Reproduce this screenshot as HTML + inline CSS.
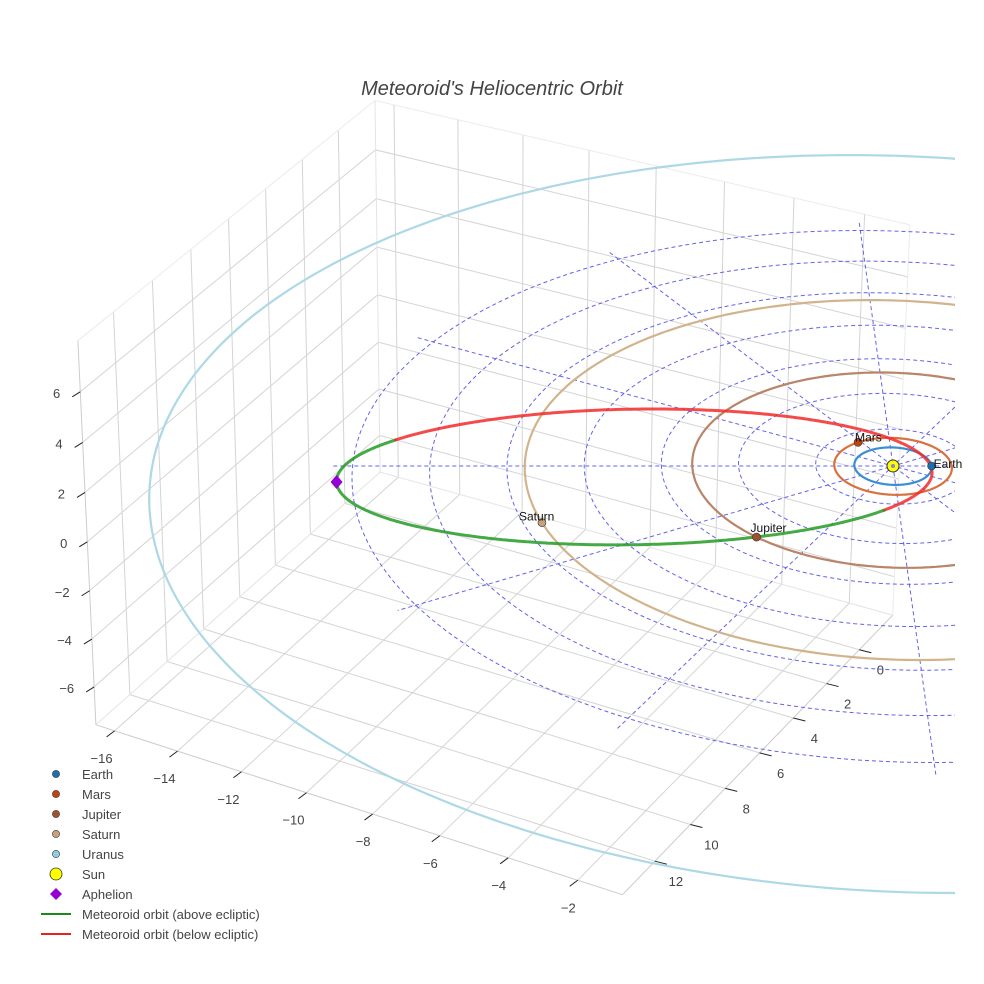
<!DOCTYPE html>
<html><head><meta charset="utf-8"><style>
html,body{margin:0;padding:0;background:#fff}
svg{display:block;font-family:"Liberation Sans",sans-serif}
</style></head><body>
<svg id="chart" width="984" height="984" viewBox="0 0 984 984">
<defs><clipPath id="sceneClip"><rect x="0" y="60" width="955" height="900"/></clipPath></defs>
<g id="scene" clip-path="url(#sceneClip)"></g>
<g id="labels"></g>
<g id="axes"></g>
<g id="legend"></g>
<text x="492" y="95" text-anchor="middle" font-size="20" font-style="italic" fill="#444">Meteoroid's Heliocentric Orbit</text>
</svg>
<script>
// ---- data ----
const planetNames = ["Earth","Mars","Jupiter","Saturn","Uranus"];
const planetRadii = [1.0, 1.52, 5.2, 9.54, 19.19];
const planetAnglesDeg = [0, 237, 135, 162, 330];
const planetOrbitColors = ["#3a8fd4","#d9713f","#b98468","#d2b48c","#add8e6"];
const planetMarkerColors = ["#1a6fb0","#c1440e","#a0522d","#c8a07a","#8fcde0"];
const meteorPerihelion = [1.0];
const meteorAphelion = [14.4];
const meteorApsideDeg = [-4];
const meteorTiltAU = [0.2];
const meteorNodeDeg = [217];
const xTicks = [-16,-14,-12,-10,-8,-6,-4,-2];
const yTicks = [0,2,4,6,8,10,12];
const zTicks = [-6,-4,-2,0,2,4,6];
const ringRadii = [2,4,6,8,10,12,14];
const spokeAnglesDeg = [0,30,60,90,120,150];
const spokeRadius = 14.5;
const xRange = [-16.6,-0.73], yRange = [-2.07,13.8], zRange = [-7.6,8.0];

// ---- box projection (calibrated on the box corners) ----
const X0=xRange[0],X1=xRange[1],Y0=yRange[0],Y1=yRange[1],Z0=zRange[0],Z1=zRange[1];
const calib = [
 [[X0,Y1,Z1],[78,335]],[[X0,Y0,Z1],[373,103]],[[X0,Y0,Z0],[378,470]],
 [[X1,Y0,Z1],[912,228]],[[X1,Y0,Z0],[895,612]],[[X1,Y1,Z0],[618,895]],
 [[X0,Y1,Z0],[100,730]]
];
function solveP(){
  const rows=[],rhs=[];
  calib.forEach(([p,s])=>{const[x,y,z]=p,[u,v]=s;
    rows.push([x,y,z,1,0,0,0,0,-u*x,-u*y,-u*z]);rhs.push(u);
    rows.push([0,0,0,0,x,y,z,1,-v*x,-v*y,-v*z]);rhs.push(v);});
  const n=11,M=[];
  for(let i=0;i<n;i++){M.push(new Array(n+1).fill(0));
    for(let j=0;j<n;j++){let s=0;rows.forEach(r=>s+=r[i]*r[j]);M[i][j]=s+(i===j?1e-6:0);}
    let s=0;rows.forEach((r,k)=>s+=r[i]*rhs[k]);M[i][n]=s;}
  for(let c=0;c<n;c++){let piv=c;for(let r=c+1;r<n;r++)if(Math.abs(M[r][c])>Math.abs(M[piv][c]))piv=r;
    [M[c],M[piv]]=[M[piv],M[c]];
    for(let r=0;r<n;r++){if(r===c)continue;const f=M[r][c]/M[c][c];for(let k=c;k<=n;k++)M[r][k]-=f*M[c][k];}}
  return M.map((r,i)=>r[n]/r[i]);
}
const P=solveP();
function projBox(x,y,z){const w=P[8]*x+P[9]*y+P[10]*z+1;
  return [(P[0]*x+P[1]*y+P[2]*z+P[3])/w,(P[4]*x+P[5]*y+P[6]*z+P[7])/w];}
// ---- heliocentric projection (calibrated on the orbits) ----
const SUN=[893,466],KX=38.6,KXY=2.6,KY=18.75,KZ=25,DEPTH=122;
function proj(x,y,z){const s=DEPTH/(DEPTH-y);return [SUN[0]+(KX*x+KXY*y)*s,SUN[1]+KY*y*s-KZ*z*s];}

const NS="http://www.w3.org/2000/svg";
function mk(tag,attrs,parent){const e=document.createElementNS(NS,tag);for(const k in attrs)e.setAttribute(k,attrs[k]);parent.appendChild(e);return e;}
function pathOf(pts){return pts.map((p,i)=>(i?"L":"M")+p[0].toFixed(1)+","+p[1].toFixed(1)).join("");}
function line3(a,b,n,f){const pts=[];for(let i=0;i<=n;i++){const t=i/n;pts.push(f(a[0]+(b[0]-a[0])*t,a[1]+(b[1]-a[1])*t,a[2]+(b[2]-a[2])*t));}return pts;}
const scene=document.getElementById("scene"),axes=document.getElementById("axes"),legend=document.getElementById("legend"),labels=document.getElementById("labels");

// ---- grid ----
const gridG=mk("g",{},scene);


function gl(a,b,col){const e=mk("path",{d:pathOf(line3(a,b,2,projBox)),stroke:col||"#d4d4d4","stroke-width":1,fill:"none"},gridG);
 
 }
yTicks.forEach(y=>{gl([X0,y,Z0],[X0,y,Z1]);gl([X0,y,Z0],[X1,y,Z0]);});
zTicks.forEach(z=>{gl([X0,Y0,z],[X0,Y1,z]);gl([X0,Y0,z],[X1,Y0,z]);});
xTicks.forEach(x=>{gl([x,Y0,Z0],[x,Y0,Z1]);gl([x,Y0,Z0],[x,Y1,Z0]);});
gl([X0,Y1,Z1],[X0,Y0,Z1],"#ebebeb");gl([X0,Y0,Z1],[X1,Y0,Z1],"#ebebeb");gl([X1,Y0,Z1],[X1,Y0,Z0],"#ebebeb");
gl([X0,Y0,Z1],[X0,Y0,Z0],"#e4e4e4");gl([X0,Y0,Z0],[X1,Y0,Z0],"#e4e4e4");gl([X0,Y0,Z0],[X0,Y1,Z0],"#e4e4e4");
gl([X0,Y1,Z1],[X0,Y1,Z0],"#cccccc");gl([X0,Y1,Z0],[X1,Y1,Z0],"#cccccc");gl([X1,Y1,Z0],[X1,Y0,Z0],"#cccccc");

// ---- ecliptic reference rings and spokes ----
function circlePts(r,n){const pts=[];for(let i=0;i<=n;i++){const a=i/n*2*Math.PI;pts.push(proj(r*Math.cos(a),r*Math.sin(a),0));}return pts;}
ringRadii.forEach(r=>{const e=mk("path",{d:pathOf(circlePts(r,240)),stroke:"#4848e8","stroke-opacity":0.85,"stroke-width":1,"stroke-dasharray":"4,3",fill:"none"},scene);
 
 });
spokeAnglesDeg.forEach(d=>{const a=d*Math.PI/180,c=Math.cos(a),s=Math.sin(a);
 const e=mk("path",{d:pathOf(line3([-spokeRadius*c,-spokeRadius*s,0],[spokeRadius*c,spokeRadius*s,0],20,proj)),stroke:"#4848e8","stroke-opacity":0.85,"stroke-width":1,"stroke-dasharray":"4,3",fill:"none"},scene);
 
 });

// ---- planet orbits ----
planetRadii.forEach((r,i)=>{const e=mk("path",{d:pathOf(circlePts(r,360)),stroke:planetOrbitColors[i],"stroke-width":2.2,fill:"none"},scene);
 
 });

// ---- meteoroid orbit ----
const q=meteorPerihelion[0],Q=meteorAphelion[0],a=(q+Q)/2,c=(Q-q)/2,b=Math.sqrt(a*a-c*c);
const psi=meteorApsideDeg[0]*Math.PI/180,h=meteorTiltAU[0],nd=meteorNodeDeg[0]*Math.PI/180;
function meteorPt(t){const u=a*Math.cos(t)-c,v=b*Math.sin(t);
 const x=u*Math.cos(psi)-v*Math.sin(psi),y=u*Math.sin(psi)+v*Math.cos(psi),z=-h*Math.sin(t-nd);return [x,y,z];}
let seg=[],segAbove=null;const N=720;
function flushSeg(){if(seg.length>1){const e=mk("path",{d:pathOf(seg.map(p=>proj(p[0],p[1],p[2]))),stroke:segAbove?"#249a24":"#f22a2a","stroke-opacity":0.85,"stroke-width":3,fill:"none","stroke-linecap":"round"},scene);
 
 }}
for(let i=0;i<=N;i++){const p=meteorPt(i/N*2*Math.PI),ab=p[2]>=0;
 if(segAbove===null)segAbove=ab;
 if(ab!==segAbove){seg.push(p);flushSeg();seg=[p];segAbove=ab;}else seg.push(p);}
flushSeg();

// ---- markers ----
planetRadii.forEach((r,i)=>{const an=planetAnglesDeg[i]*Math.PI/180;const s=proj(r*Math.cos(an),r*Math.sin(an),0);
 const m=mk("circle",{cx:s[0],cy:s[1],r:4,fill:planetMarkerColors[i],stroke:"#333","stroke-width":0.6},scene);
 
 
 if(i===4)return;
 const t=mk("text",{x:s[0]+(i===0?2:i===1?-3:i===2?-6:-23),y:s[1]+(i===0?2:i===1?-1:i===2?-5:-2),"font-size":12,fill:"#111"},labels);
 t.textContent=planetNames[i];
 
 });
const sunS=proj(0,0,0);
const sun=mk("circle",{cx:sunS[0],cy:sunS[1],r:6,fill:"#ffff00",stroke:"#333","stroke-width":1},scene);


const sunCore=mk("circle",{cx:sunS[0],cy:sunS[1],r:2,fill:"#8888cc"},scene);


const aph=meteorPt(Math.PI),aS=proj(aph[0],aph[1],aph[2]);
const dm=mk("path",{d:`M${aS[0]},${aS[1]-7}L${aS[0]+6},${aS[1]}L${aS[0]},${aS[1]+7}L${aS[0]-6},${aS[1]}Z`,fill:"#9400d3"},scene);



// ---- axes ticks ----
function tick(edge,dir,label,off,anchor,name){const s=projBox(edge[0],edge[1],edge[2]);
 const l=mk("line",{x1:s[0],y1:s[1],x2:s[0]+dir[0],y2:s[1]+dir[1],stroke:"#222","stroke-width":1},axes);
 
 
 const t=mk("text",{x:s[0]+off[0],y:s[1]+off[1],"font-size":13,fill:"#444","text-anchor":anchor},axes);
 t.textContent=label<0?"\u2212"+Math.abs(label):String(label);
 
 }
xTicks.forEach(x=>tick([x,Y1,Z0],[-8,6],x,[-2,32],"end","x-axis"));
yTicks.forEach(y=>tick([X1,y,Z0],[12,3],y,[21,25],"middle","y-axis"));
zTicks.forEach(z=>tick([X0,Y1,z],[-8,5],z,[-20,6],"end","z-axis"));

// ---- legend ----
const legNames=["Earth","Mars","Jupiter","Saturn","Uranus","Sun","Aphelion","Meteoroid orbit (above ecliptic)","Meteoroid orbit (below ecliptic)"];
legNames.forEach((n,i)=>{const y=774+i*20;const g=mk("g",{},legend);
 
 
 if(i<5)mk("circle",{cx:56,cy:y,r:3.6,fill:planetMarkerColors[i],stroke:"#333","stroke-width":0.6},g);
 else if(i===5)mk("circle",{cx:56,cy:y,r:6,fill:"#ffff00",stroke:"#333","stroke-width":0.8},g);
 else if(i===6)mk("path",{d:`M56,${y-6}L62,${y}L56,${y+6}L50,${y}Z`,fill:"#9400d3"},g);
 else mk("line",{x1:41,y1:y,x2:71,y2:y,stroke:i===7?"#1a8a1a":"#e82020","stroke-width":2},g);
 const t=mk("text",{x:82,y:y+5,"font-size":13,fill:"#444"},g);t.textContent=n;});
</script>
</body></html>
